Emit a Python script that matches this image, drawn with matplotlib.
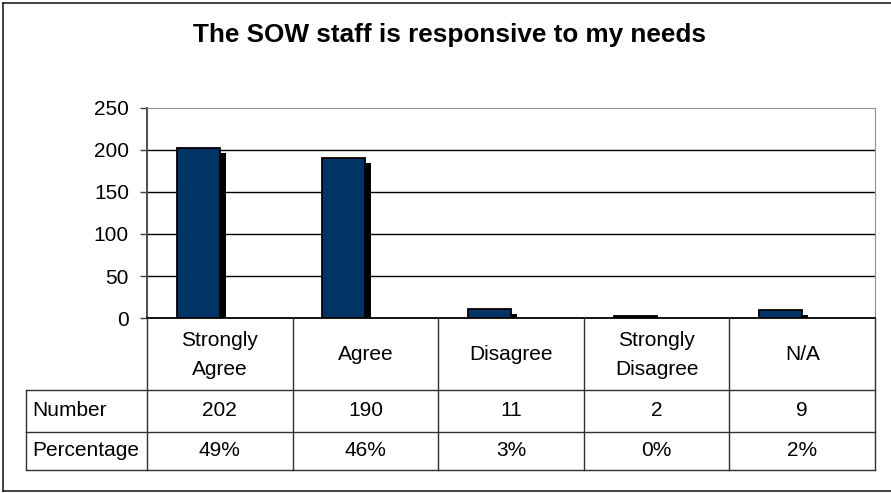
import matplotlib
matplotlib.use("Agg")
import matplotlib.pyplot as plt
from matplotlib.lines import Line2D
from matplotlib.transforms import blended_transform_factory, ScaledTranslation
import numpy as np

plt.rcParams['font.family'] = ['Liberation Sans', 'DejaVu Sans']

categories = ["Strongly\nAgree", "Agree", "Disagree", "Strongly\nDisagree", "N/A"]
counts = [202, 190, 11, 2, 9]
percentages = ["49%", "46%", "3%", "0%", "2%"]
row_labels = ["Number", "Percentage"]
title = "The SOW staff is responsive to my needs"
yticks = [0, 50, 100, 150, 200, 250]

W, H = 891, 493
fig = plt.figure(figsize=(W / 100, H / 100), dpi=100)
FS = 15


def fx(px):
    return px / W


def fy(py):
    return 1 - py / H


ax = fig.add_axes([fx(147), fy(318), fx(875) - fx(147), fy(108) - fy(318)])
x = np.arange(len(categories))
bw = 0.295
off = -bw / 2
shadow = ScaledTranslation(6 / 100, -5 / 100, fig.dpi_scale_trans)
ax.bar(x + off, counts, width=bw, color='black', transform=ax.transData + shadow, zorder=2)
ax.bar(x + off, counts, width=bw, color='#003366', edgecolor='black', linewidth=1.3, zorder=3)
ax.hlines(yticks[1:-1], -0.5, len(categories) - 0.5, color='black', lw=1.0, zorder=1)

ax.set_xlim(-0.5, len(categories) - 0.5)
ax.set_ylim(yticks[0], yticks[-1])
ax.set_yticks(yticks)
ax.set_xticks([])
ax.tick_params(axis='y', direction='out', length=5, width=1, color='#404040',
               labelsize=FS, pad=8)
ax.spines['top'].set_color('#909090')
ax.spines['right'].set_color('#909090')
ax.spines['left'].set_color('#404040')
ax.spines['left'].set_linewidth(1.3)
ax.spines['bottom'].set_color('black')
ax.spines['bottom'].set_linewidth(1.3)

# data table under the axis
bt = blended_transform_factory(ax.transData, fig.transFigure)
tcol = '#303030'
for b in np.arange(len(categories) + 1) - 0.5:
    fig.add_artist(Line2D([b, b], [fy(318), fy(470)], transform=bt, color=tcol, lw=1.0))
for py in (390, 432, 470):
    fig.add_artist(Line2D([fx(26), fx(875)], [fy(py), fy(py)], color=tcol, lw=1.0))
fig.add_artist(Line2D([fx(26), fx(26)], [fy(390), fy(470)], color=tcol, lw=1.0))

for i, c in enumerate(categories):
    fig.text(x[i], fy(355), c, transform=bt, ha='center', va='center', fontsize=FS,
             linespacing=1.65)
    fig.text(x[i], fy(411), str(counts[i]), transform=bt, ha='center', va='center', fontsize=FS)
    fig.text(x[i], fy(451), percentages[i], transform=bt, ha='center', va='center', fontsize=FS)
fig.text(fx(32), fy(411), row_labels[0], ha='left', va='center', fontsize=FS)
fig.text(fx(32), fy(451), row_labels[1], ha='left', va='center', fontsize=FS)

fig.text(fx(449), fy(35), title, ha='center', va='center', fontsize=18.8, fontweight='bold')

# outer chart border
bc = '#202020'
fig.add_artist(Line2D([fx(3), fx(3)], [fy(3), fy(491)], color=bc, lw=1.2))
fig.add_artist(Line2D([fx(3), fx(891)], [fy(3), fy(3)], color=bc, lw=1.2))
fig.add_artist(Line2D([fx(3), fx(891)], [fy(491), fy(491)], color=bc, lw=1.2))

fig.savefig('out.png', dpi=100)
